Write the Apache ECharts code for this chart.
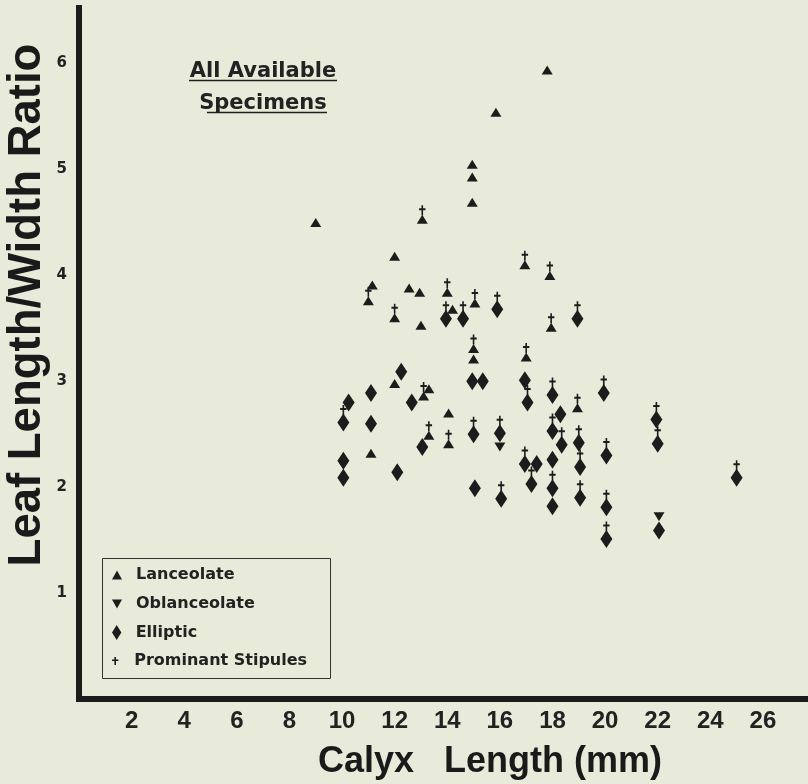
<!DOCTYPE html>
<html><head><meta charset="utf-8">
<script src="https://cdn.jsdelivr.net/npm/echarts@6/dist/echarts.min.js"></script>
<style>html,body{margin:0;padding:0;background:#e8ebda}#c{width:808px;height:784px}</style>
</head><body><div id="c"></div>
<script>
// ---- data ----
const xTickValues = [2, 4, 6, 8, 10, 12, 14, 16, 18, 20, 22, 24, 26];
const yTickValues = [1, 2, 3, 4, 5, 6];

// Lanceolate leaves (no prominent stipules)
const lanceolate = [
  [17.8, 5.94], [15.85, 5.54], [14.95, 5.05], [14.95, 4.93], [14.95, 4.69],
  [9.0, 4.5], [12.0, 4.18], [11.15, 3.91], [12.55, 3.88], [12.95, 3.84],
  [14.2, 3.68], [13.0, 3.53], [15.0, 3.21], [12.0, 2.98], [13.3, 2.93],
  [14.05, 2.7], [11.1, 2.32]
];
// Lanceolate leaves with prominent stipules
const lanceolateStipules = [
  [13.05, 4.53], [16.95, 4.1], [17.9, 4.0], [11.0, 3.76], [14.0, 3.84],
  [12.0, 3.6], [15.05, 3.74], [17.95, 3.51], [15.0, 3.31], [17.0, 3.23],
  [13.1, 2.86], [13.3, 2.49], [14.05, 2.41], [18.95, 2.75]
];
// Oblanceolate leaves
const oblanceolate = [[16.0, 2.38], [22.05, 1.72]];
// Elliptic leaves (no prominent stipules)
const elliptic = [
  [12.25, 3.09], [11.1, 2.89], [10.25, 2.8], [11.1, 2.6], [12.65, 2.8],
  [13.05, 2.38], [10.05, 2.25], [10.05, 2.09], [12.1, 2.14], [14.95, 3.0],
  [15.35, 3.0], [16.95, 3.01], [17.4, 2.22], [15.05, 1.99], [18.3, 2.69],
  [18.0, 2.26], [18.0, 1.82], [22.05, 1.59]
];
// Elliptic leaves with prominent stipules
const ellipticStipules = [
  [10.05, 2.61], [13.95, 3.59], [14.6, 3.59], [15.9, 3.68], [18.95, 3.59],
  [17.05, 2.8], [18.0, 2.87], [19.95, 2.89], [21.95, 2.64], [22.0, 2.41],
  [15.0, 2.5], [16.0, 2.51], [18.0, 2.53], [18.35, 2.4], [19.0, 2.42],
  [16.95, 2.22], [19.05, 2.19], [20.05, 2.3], [17.2, 2.03], [16.05, 1.89],
  [18.0, 1.99], [19.05, 1.9], [20.05, 1.81], [20.05, 1.51], [25.0, 2.09]
];
const legendNames = ['Lanceolate', 'Oblanceolate', 'Elliptic', 'Prominant Stipules'];

// ---- styles ----
const INK = '#1c1c1c';
const TRI_UP = 'path://M5,0 L10,9 L0,9 Z';
const TRI_DOWN = 'path://M0,0 L10,0 L5,9 Z';
const DIAMOND = 'path://M5,0 L10,8 L5,16 L0,8 Z';
const CROSS = 'path://M3,0 L5,0 L5,3 L8,3 L8,5 L5,5 L5,10 L3,10 L3,5 L0,5 L0,3 L3,3 Z';
const legendFont = { fontFamily: '"DejaVu Sans", sans-serif', fontWeight: 'bold', fontSize: 16, color: '#222' };

const legendRows = [
  { icon: TRI_UP, h: 9, top: 567 },
  { icon: TRI_DOWN, h: 9, top: 596 },
  { icon: DIAMOND, h: 15, top: 624.5 },
  { icon: CROSS, h: 8, top: 653 }
];

const chart = echarts.init(document.getElementById('c'), null, { renderer: 'canvas' });
chart.setOption({
  backgroundColor: '#e8ebda',
  animation: false,
  grid: { left: 79, right: 0, top: 8, bottom: 85, containLabel: false },
  xAxis: {
    type: 'value', min: 0, max: 27.6, interval: 2,
    axisLine: { show: true, lineStyle: { color: INK, width: 6, cap: 'square' } },
    axisTick: { show: false },
    splitLine: { show: false },
    axisLabel: {
      margin: 10,
      fontFamily: '"Liberation Sans", sans-serif',
      fontWeight: 'bold', fontSize: 24, color: '#222',
      formatter: v => (xTickValues.indexOf(v) >= 0 ? String(v) : '')
    }
  },
  yAxis: {
    type: 'value', min: 0, max: 6.525, interval: 1,
    axisLine: { show: true, lineStyle: { color: INK, width: 6, cap: 'square' } },
    axisTick: { show: false },
    splitLine: { show: false },
    axisLabel: {
      margin: 12,
      fontFamily: '"DejaVu Sans", sans-serif', fontWeight: 'bold', fontSize: 15, color: '#222',
      formatter: v => (yTickValues.indexOf(v) >= 0 ? String(v) : '')
    }
  },
  legend: legendRows.map((r, i) => ({
    left: 112, top: r.top, orient: 'vertical', padding: 0,
    itemWidth: 28, itemHeight: r.h, selectedMode: false,
    data: [{ name: legendNames[i], icon: r.icon }],
    textStyle: legendFont
  })),
  graphic: [
    { type: 'rect', shape: { x: 102.5, y: 558.5, width: 228, height: 120 },
      style: { fill: 'none', stroke: '#333', lineWidth: 1 } },
    { type: 'text', x: 263, y: 72,
      style: { text: 'All Available', font: 'bold 21px "DejaVu Sans"', fill: '#222', textAlign: 'center', textVerticalAlign: 'middle' } },
    { type: 'line', shape: { x1: 189, y1: 80.5, x2: 337, y2: 80.5 }, style: { stroke: '#222', lineWidth: 1.5 } },
    { type: 'text', x: 263, y: 104,
      style: { text: 'Specimens', font: 'bold 21px "DejaVu Sans"', fill: '#222', textAlign: 'center', textVerticalAlign: 'middle' } },
    { type: 'line', shape: { x1: 207, y1: 112.5, x2: 327, y2: 112.5 }, style: { stroke: '#222', lineWidth: 1.5 } },
    { type: 'text', x: 490, y: 762,
      style: { text: 'Calyx   Length (mm)', font: 'bold 36px "Liberation Sans"', fill: '#1a1a1a', textAlign: 'center', textVerticalAlign: 'middle' } },
    { type: 'text', x: 27, y: 305, rotation: Math.PI / 2,
      style: { text: 'Leaf Length/Width Ratio', font: 'bold 45.5px "Liberation Sans"', fill: '#1a1a1a', textAlign: 'center', textVerticalAlign: 'middle' } }
  ],
  series: [
    { name: 'Lanceolate', type: 'scatter', data: lanceolate.concat(lanceolateStipules),
      symbol: TRI_UP, symbolSize: [11, 10], symbolKeepAspect: true, itemStyle: { color: INK, opacity: 1 }, z: 2 },
    { name: 'Oblanceolate', type: 'scatter', data: oblanceolate,
      symbol: TRI_DOWN, symbolSize: [11, 10], symbolKeepAspect: true, itemStyle: { color: INK, opacity: 1 }, z: 2 },
    { name: 'Elliptic', type: 'scatter', data: elliptic.concat(ellipticStipules),
      symbol: DIAMOND, symbolSize: [12, 18], symbolKeepAspect: false, itemStyle: { color: INK, opacity: 1 }, z: 2 },
    { name: 'Prominant Stipules', type: 'scatter', data: lanceolateStipules,
      symbol: CROSS, symbolSize: [8, 10], symbolKeepAspect: true, symbolOffset: [0, -9], itemStyle: { color: INK, opacity: 1 }, z: 3 },
    { name: 'Prominant Stipules', type: 'scatter', data: ellipticStipules,
      symbol: CROSS, symbolSize: [8, 10], symbolKeepAspect: true, symbolOffset: [0, -12.5], itemStyle: { color: INK, opacity: 1 }, z: 3 }
  ]
});
</script>
</body></html>
